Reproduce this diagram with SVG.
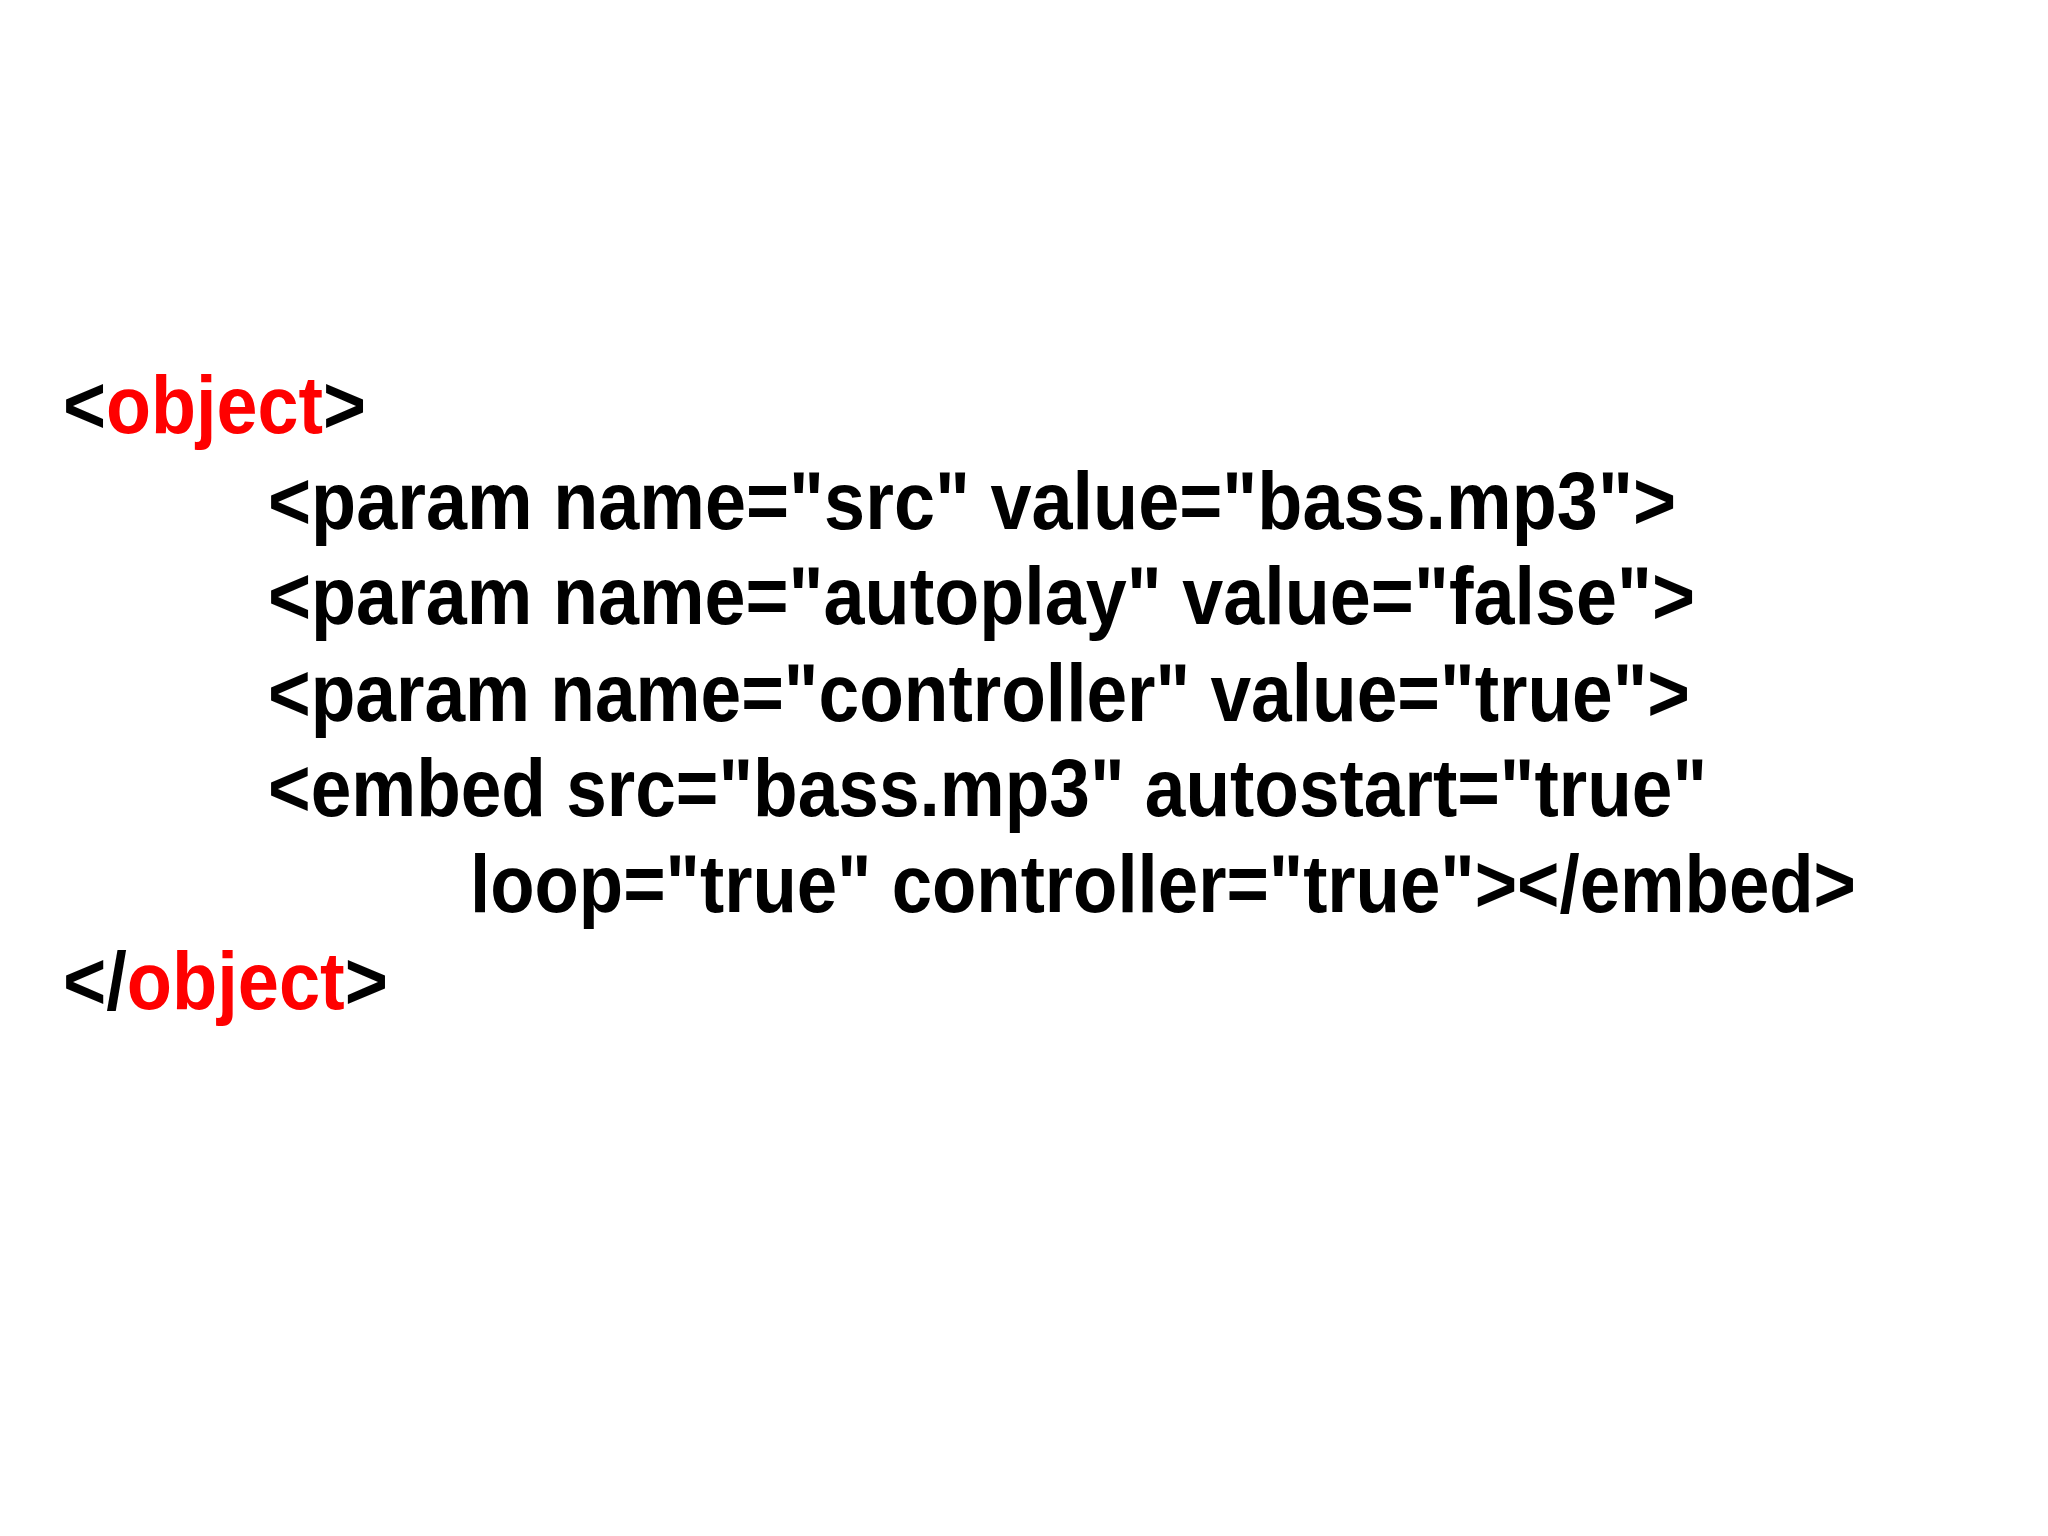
<svg xmlns="http://www.w3.org/2000/svg" width="2048" height="1536" viewBox="0 0 2048 1536">
<style>
text{font-family:"Liberation Sans",Arial,sans-serif;font-weight:bold;font-size:81px;fill:#000}
.r{fill:#f00}
</style>
<rect width="2048" height="1536" fill="#fff"/>
<g id="code">
<text x="63" y="433" textLength="303" lengthAdjust="spacingAndGlyphs">&lt;<tspan class="r">object</tspan>&gt;</text>
<text x="268" y="529" textLength="1408" lengthAdjust="spacingAndGlyphs">&lt;param name="src" value="bass.mp3"&gt;</text>
<text x="268" y="624" textLength="1427" lengthAdjust="spacingAndGlyphs">&lt;param name="autoplay" value="false"&gt;</text>
<text x="268" y="721" textLength="1422" lengthAdjust="spacingAndGlyphs">&lt;param name="controller" value="true"&gt;</text>
<text x="268" y="816" textLength="1439" lengthAdjust="spacingAndGlyphs">&lt;embed src="bass.mp3" autostart="true"</text>
<text x="470" y="912" textLength="1386" lengthAdjust="spacingAndGlyphs">loop="true" controller="true"&gt;&lt;/embed&gt;</text>
<text x="63" y="1009" textLength="325" lengthAdjust="spacingAndGlyphs">&lt;/<tspan class="r">object</tspan>&gt;</text>
</g>
</svg>
